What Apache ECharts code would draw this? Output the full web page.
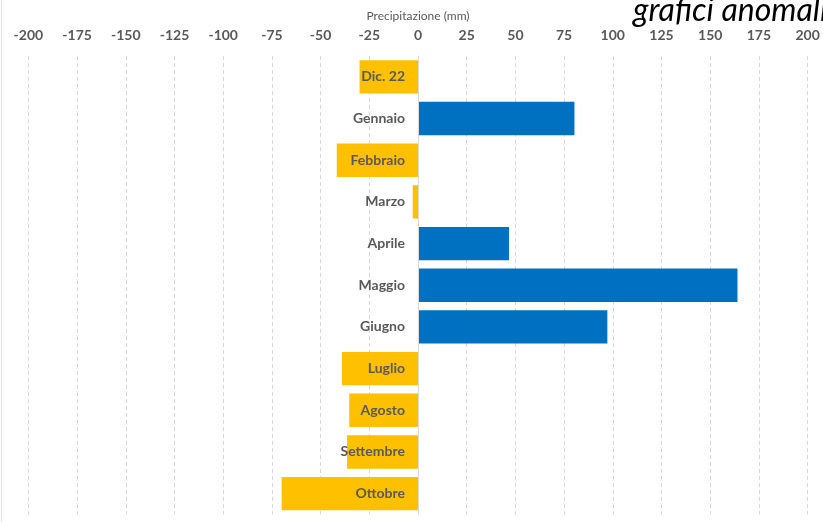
<!DOCTYPE html>
<html>
<head>
<meta charset="utf-8">
<script src="https://cdn.jsdelivr.net/npm/echarts@6/dist/echarts.min.js"></script>
<style>
  html, body { margin: 0; padding: 0; background: #ffffff; }
  #chart { width: 823px; height: 522px; }
</style>
</head>
<body>
<div id="chart"></div>
<script>
// Monthly precipitation anomaly (mm), Dec 2022 – Oct 2023
const months = ['Dic. 22', 'Gennaio', 'Febbraio', 'Marzo', 'Aprile', 'Maggio',
                'Giugno', 'Luglio', 'Agosto', 'Settembre', 'Ottobre'];
const anomalies = [-30, 80.3, -41.7, -2.7, 46.7, 164, 97.2, -39, -35.3, -36.4, -70];
const axisTicks = [-200, -175, -150, -125, -100, -75, -50, -25, 0, 25, 50, 75, 100, 125, 150, 175, 200];

const DRY = '#FFC000';
const WET = '#0070C0';
const TEXT = '#595959';
const FONT = 'Lato, "Open Sans", sans-serif';

const GRID_LEFT = 28.4;
const GRID_RIGHT = 15.4;
const CHART_W = 823;
const xMin = axisTicks[0];
const xMax = axisTicks[axisTicks.length - 1];
// pixel distance from the grid's left edge to the zero line
const zeroOffset = (0 - xMin) / (xMax - xMin) * (CHART_W - GRID_LEFT - GRID_RIGHT);

const chart = echarts.init(document.getElementById('chart'), null, { renderer: 'canvas' });

chart.setOption({
  animation: false,
  backgroundColor: '#ffffff',
  grid: {
    left: GRID_LEFT, right: GRID_RIGHT, top: 56, bottom: 7.5,
    containLabel: false, outerBoundsMode: 'none'
  },
  xAxis: {
    type: 'value',
    position: 'top',
    min: xMin,
    max: xMax,
    interval: 25,
    name: 'Precipitazione (mm)',
    nameLocation: 'middle',
    nameGap: 34,
    nameTextStyle: { color: TEXT, fontSize: 12, fontFamily: FONT },
    axisLine: { show: false },
    axisTick: { show: false },
    axisLabel: {
      color: TEXT, fontSize: 14, fontWeight: 'bold', fontFamily: FONT, margin: 14
    },
    splitLine: {
      show: true,
      lineStyle: { color: '#d9d9d9', width: 1, type: [4, 3] }
    }
  },
  yAxis: {
    type: 'category',
    inverse: true,
    data: months,
    position: 'left',
    offset: -zeroOffset,
    z: 10,
    axisLine: { show: true, onZero: false, lineStyle: { color: '#d9d9d9', width: 1 } },
    axisTick: { show: false },
    axisLabel: {
      color: TEXT, fontSize: 14, fontWeight: 'bold', fontFamily: FONT, margin: 13
    },
    splitLine: { show: false }
  },
  series: [{
    type: 'bar',
    barCategoryGap: '20%',
    data: anomalies.map(v => ({
      value: v,
      itemStyle: { color: v < 0 ? DRY : WET }
    }))
  }],
  graphic: [
    {
      type: 'text',
      left: 633,
      top: -5,
      style: {
        text: 'grafici anomalie',
        font: 'italic 32px Lato, "Open Sans", sans-serif',
        fill: '#000000'
      }
    },
    {
      type: 'line',
      shape: { x1: 1.5, y1: 0, x2: 1.5, y2: 522 },
      style: { stroke: '#e3e3e3', lineWidth: 1 }
    }
  ]
});
</script>
</body>
</html>
